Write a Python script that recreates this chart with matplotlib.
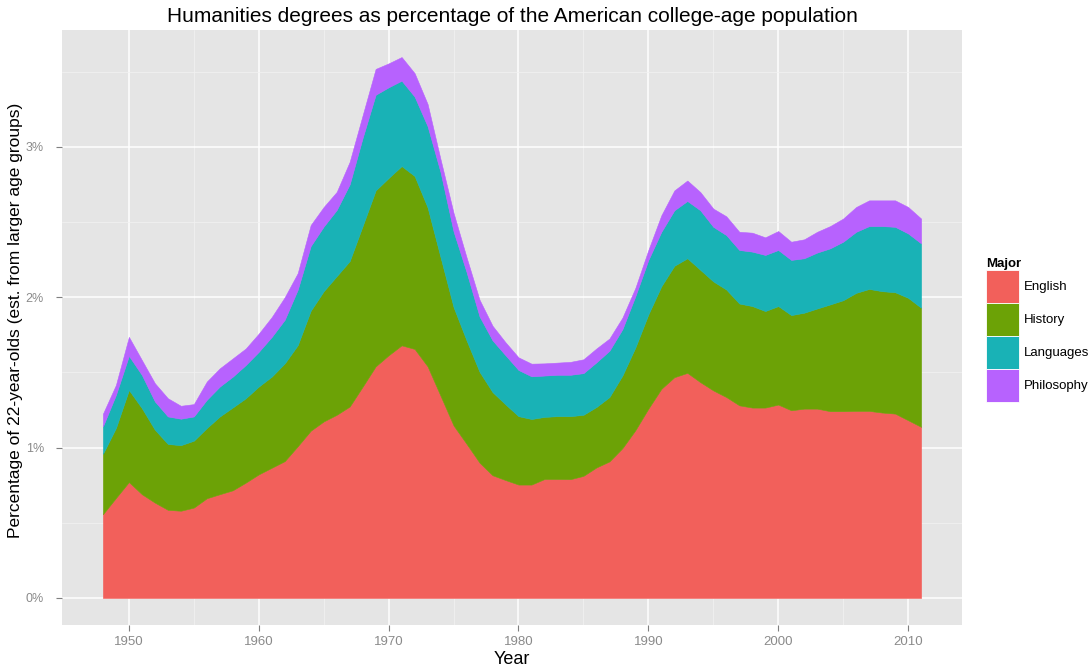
import numpy as np
import matplotlib
matplotlib.use('Agg')
import matplotlib.pyplot as plt
from matplotlib.patches import Patch
from matplotlib.ticker import FixedLocator, FuncFormatter

plt.rcParams['font.family'] = ['Liberation Sans', 'DejaVu Sans']

# percentage of 22-year-olds, by major
years = list(range(1948, 2012))

english = [0.557, 0.665, 0.771, 0.690, 0.634, 0.586, 0.580, 0.601, 0.663, 0.690,
           0.716, 0.767, 0.822, 0.866, 0.910, 1.009, 1.112, 1.174, 1.218, 1.273,
           1.405, 1.540, 1.614, 1.680, 1.656, 1.540, 1.344, 1.147, 1.025, 0.900,
           0.816, 0.784, 0.754, 0.754, 0.791, 0.791, 0.790, 0.812, 0.868, 0.908,
           0.996, 1.116, 1.259, 1.391, 1.468, 1.497, 1.435, 1.380, 1.336, 1.281,
           1.266, 1.266, 1.286, 1.248, 1.259, 1.259, 1.242, 1.242, 1.244, 1.244,
           1.233, 1.226, 1.182, 1.138]

history = [0.401, 0.465, 0.612, 0.572, 0.485, 0.438, 0.436, 0.445, 0.467, 0.517,
           0.551, 0.561, 0.584, 0.606, 0.650, 0.672, 0.798, 0.866, 0.922, 0.967,
           1.069, 1.170, 1.179, 1.192, 1.150, 1.057, 0.921, 0.787, 0.688, 0.604,
           0.553, 0.503, 0.455, 0.436, 0.413, 0.418, 0.419, 0.406, 0.402, 0.428,
           0.483, 0.550, 0.627, 0.682, 0.741, 0.762, 0.747, 0.725, 0.715, 0.677,
           0.675, 0.642, 0.655, 0.633, 0.638, 0.666, 0.710, 0.738, 0.785, 0.811,
           0.807, 0.807, 0.814, 0.792]

languages = [0.183, 0.220, 0.227, 0.221, 0.188, 0.183, 0.176, 0.161, 0.188, 0.199,
             0.205, 0.221, 0.231, 0.264, 0.290, 0.369, 0.430, 0.430, 0.440, 0.510,
             0.586, 0.636, 0.603, 0.568, 0.528, 0.540, 0.565, 0.503, 0.454, 0.368,
             0.344, 0.327, 0.307, 0.284, 0.275, 0.275, 0.275, 0.277, 0.297, 0.308,
             0.308, 0.341, 0.362, 0.362, 0.369, 0.381, 0.396, 0.363, 0.362, 0.356,
             0.362, 0.373, 0.373, 0.367, 0.362, 0.372, 0.373, 0.389, 0.406, 0.418,
             0.433, 0.435, 0.428, 0.428]

philosophy = [0.084, 0.066, 0.126, 0.099, 0.121, 0.121, 0.086, 0.082, 0.121, 0.121,
              0.121, 0.110, 0.121, 0.132, 0.150, 0.110, 0.140, 0.130, 0.120, 0.150,
              0.150, 0.172, 0.159, 0.157, 0.156, 0.148, 0.086, 0.123, 0.098, 0.111,
              0.097, 0.086, 0.084, 0.084, 0.081, 0.081, 0.086, 0.092, 0.092, 0.081,
              0.077, 0.055, 0.066, 0.110, 0.132, 0.136, 0.121, 0.121, 0.125, 0.121,
              0.126, 0.117, 0.126, 0.121, 0.126, 0.138, 0.148, 0.154, 0.165, 0.171,
              0.171, 0.176, 0.176, 0.165]

majors = ['English', 'History', 'Languages', 'Philosophy']
colors = ['#F2605B', '#6CA206', '#19B2B6', '#B762FE']

W, H = 1092, 670
fig = plt.figure(figsize=(W / 100, H / 100), dpi=100)
ax = fig.add_axes([62 / W, 1 - 625 / H, 900 / W, 595 / H])
ax.set_facecolor('#E5E5E5')
for s in ax.spines.values():
    s.set_visible(False)

polys = ax.stackplot(years, english, history, languages, philosophy, colors=colors)
for p, c in zip(polys, colors):
    p.set_edgecolor(c)
    p.set_linewidth(0.4)

# ggplot-like expansion
span = years[-1] - years[0]
ax.set_xlim(years[0] - 0.05 * span, years[-1] + 0.05 * span)
top = max(np.array(english) + np.array(history) + np.array(languages) + np.array(philosophy))
ax.set_ylim(-0.05 * top, top * 1.05)

ax.xaxis.set_major_locator(FixedLocator(range(1950, 2011, 10)))
ax.xaxis.set_minor_locator(FixedLocator(range(1955, 2010, 10)))
ax.yaxis.set_major_locator(FixedLocator([0, 1, 2, 3]))
ax.yaxis.set_minor_locator(FixedLocator([0.5, 1.5, 2.5, 3.5]))
ax.yaxis.set_major_formatter(FuncFormatter(lambda v, _: f'{v:.0f}%'))

ax.set_axisbelow(True)
ax.grid(which='major', color='white', linewidth=1.1)
ax.grid(which='minor', color='#F2F2F2', linewidth=0.5)

ax.tick_params(which='major', length=4, width=0.8, color='#7F7F7F',
               labelcolor='#8A8A8A', labelsize=9.5)
ax.tick_params(axis='x', pad=4)
ax.tick_params(axis='y', pad=9, labelsize=9)
ax.tick_params(which='minor', length=0)

fig.text(512 / W, 1 - 17 / H, 'Humanities degrees as percentage of the American college-age population',
         ha='center', va='center', fontsize=15)
fig.text(512 / W, 1 - 660 / H, 'Year', ha='center', va='center', fontsize=13)
fig.text(16 / W, 1 - 320 / H, 'Percentage of 22-year-olds (est. from larger age groups)',
         ha='center', va='center', rotation=90, fontsize=12.5)

handles = [Patch(facecolor=c, edgecolor='white', linewidth=0.6) for c in colors]
leg = fig.legend(handles, majors, title='Major', loc='upper left',
                 bbox_to_anchor=(986 / W, 1 - 258 / H), frameon=False,
                 fontsize=9.5, handlelength=2.5, handleheight=3.48,
                 labelspacing=0, handletextpad=0.35, borderpad=0,
                 borderaxespad=0, alignment='left')
leg.get_title().set_fontweight('bold')
leg.get_title().set_fontsize(9.5)

fig.savefig('out.png', dpi=100)
